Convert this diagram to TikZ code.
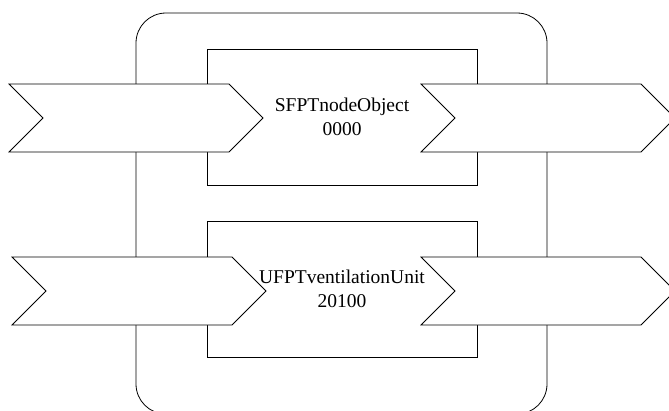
\documentclass[tikz,border=0pt]{standalone}
\usepackage{fontspec}
\setmainfont{Liberation Serif}
\usetikzlibrary{shapes.symbols}
\begin{document}
\begin{tikzpicture}[x=1pt,y=-1pt,
	unitbox/.style={draw, line width=0.8pt, minimum width=270pt, minimum height=136pt, inner sep=0pt},
	port/.style={signal, signal from=west, signal to=east, draw, fill=white, line width=0.8pt,
		minimum width=254pt, minimum height=68pt, inner sep=0pt},
	unitlabel/.style={font=\fontsize{19.5}{23.5}\selectfont, align=center}]
	\useasboundingbox (0,0) rectangle (669,410);
	% outer frame
	\begin{scope}
		\clip (0,0) rectangle (669,410);
		\draw[line width=0.8pt, rounded corners=30pt] (136,13) rectangle (547,414);
	\end{scope}
	% unit boxes
	\def\boxes {(342,117), (342,289)};
	\foreach \coords [count=\index] in \boxes
	{
		\node[unitbox] (u_\index) at \coords {};
	}
	% ports
	\def\ports {(136,118), (548,118), (139,291), (548,291)};
	\begin{scope}
		\clip (0,0) rectangle (669,410);
		\foreach \coords [count=\index] in \ports
		{
			\node[port] (p_\index) at \coords {};
		}
	\end{scope}
	% labels
	\node[unitlabel] (l_1) at (u_1) {SFPTnodeObject\\0000};
	\node[unitlabel] (l_2) at (u_2) {UFPTventilationUnit\\20100};
\end{tikzpicture}
\end{document}
